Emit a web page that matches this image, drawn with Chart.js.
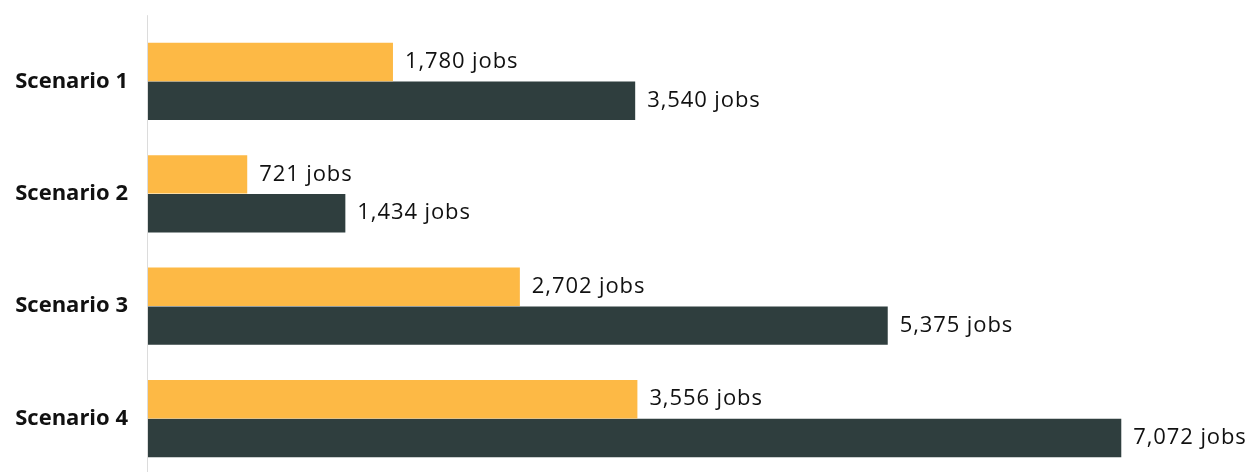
<!DOCTYPE html>
<html>
<head>
<meta charset="utf-8">
<script src="https://cdn.jsdelivr.net/npm/chart.js@4/dist/chart.umd.min.js"></script>
<style>
  html, body { margin: 0; padding: 0; background: #fff; overflow: hidden; }
  canvas { display: block; }
</style>
</head>
<body>
<canvas id="chart" width="1252" height="500"></canvas>
<script>
const categories = ['Scenario 1', 'Scenario 2', 'Scenario 3', 'Scenario 4'];
const seriesA = [1780, 721, 2702, 3556];
const seriesB = [3540, 1434, 5375, 7072];

const FONT = '"Open Sans", "Noto Sans", sans-serif';

// draws "N jobs" next to each bar
const valueLabels = {
  id: 'valueLabels',
  afterDatasetsDraw(chart) {
    const ctx = chart.ctx;
    ctx.save();
    ctx.font = '22px ' + FONT;
    if ('letterSpacing' in ctx) ctx.letterSpacing = '0.9px';
    ctx.fillStyle = '#111';
    ctx.textBaseline = 'middle';
    ctx.textAlign = 'left';
    chart.data.datasets.forEach((ds, i) => {
      chart.getDatasetMeta(i).data.forEach((bar, j) => {
        ctx.fillText(ds.data[j].toLocaleString('en-US') + ' jobs', bar.x + 12, bar.y);
      });
    });
    ctx.restore();
  }
};

// light vertical axis line, runs a bit above the plot area
const axisLine = {
  id: 'axisLine',
  beforeDatasetsDraw(chart) {
    const { ctx, chartArea } = chart;
    ctx.save();
    ctx.strokeStyle = '#dcdcdc';
    ctx.lineWidth = 1;
    ctx.beginPath();
    ctx.moveTo(chartArea.left - 0.5, chartArea.top - 10);
    ctx.lineTo(chartArea.left - 0.5, chartArea.bottom);
    ctx.stroke();
    ctx.restore();
  }
};

new Chart(document.getElementById('chart'), {
  type: 'bar',
  data: {
    labels: categories,
    datasets: [
      { data: seriesA, backgroundColor: '#fdb945', barPercentage: 0.99, categoryPercentage: 0.69 },
      { data: seriesB, backgroundColor: '#2f3e3e', barPercentage: 0.99, categoryPercentage: 0.69 }
    ]
  },
  options: {
    indexAxis: 'y',
    responsive: false,
    animation: false,
    layout: { padding: { top: 17.5, right: 3, left: 0, bottom: 0 } },
    plugins: { legend: { display: false }, tooltip: { enabled: false } },
    scales: {
      x: { display: false, min: 0, max: 8000 },
      y: {
        grid: { display: false },
        border: { display: false },
        afterFit(scale) { scale.width = 148; },
        ticks: {
          color: '#111',
          padding: 12,
          font: { family: FONT, size: 22, weight: 'bold' }
        }
      }
    }
  },
  plugins: [axisLine, valueLabels]
});
</script>
</body>
</html>
